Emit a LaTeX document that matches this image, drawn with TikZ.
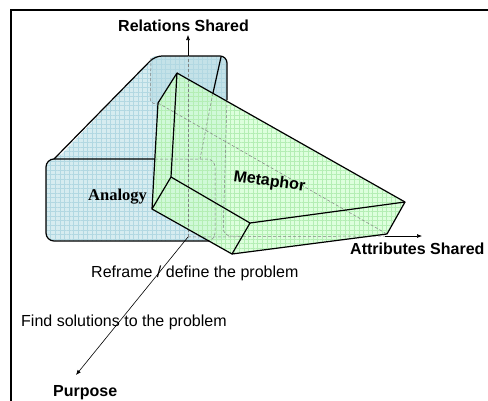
\documentclass[tikz,border=0pt]{standalone}
\usepackage{fontspec}
\setmainfont{Liberation Sans}
\newfontfamily\serifb{Liberation Serif}
\usetikzlibrary{arrows.meta,patterns.meta}
\definecolor{bfill}{RGB}{214,236,240}
\definecolor{bback}{RGB}{196,226,232}
\definecolor{bgrid}{RGB}{178,216,226}
\definecolor{gfill}{RGB}{206,255,206}
\definecolor{ggrid}{RGB}{180,238,180}
\begin{document}
\begin{tikzpicture}[x=1pt,y=-1pt,
  lab/.style={font=\fontsize{16}{18}\selectfont\bfseries, inner sep=0pt, anchor=base west},
  txt/.style={font=\fontsize{16}{18}\selectfont, inner sep=0pt, anchor=base west},
  edge/.style={line width=1.2pt, line join=round},
  hidden/.style={gray, line width=0.5pt, dash pattern=on 3pt off 2pt},
  axis/.style={line width=0.6pt, -{Latex[length=5pt,width=4pt]}},
  gridb/.style={pattern={Hatch[angle=0,distance=4.6pt,line width=0.3pt]}, pattern color=bgrid},
  gridg/.style={pattern={Hatch[angle=0,distance=4.6pt,line width=0.3pt]}, pattern color=ggrid}]
\useasboundingbox (0,0) rectangle (488,400);
% frame
\draw[line width=1.5pt] (11,10) rectangle (530,430);
% coordinates
\coordinate (O) at (188,237);
\coordinate (Oup) at (188,56);
\coordinate (Oright) at (385,236);
\coordinate (A) at (177,73);
\coordinate (B) at (158,103);
\coordinate (C) at (152,209);
\coordinate (D) at (171,177);
\coordinate (E) at (250,223);
\coordinate (F) at (232,254);
\coordinate (G) at (405,202);
\coordinate (H) at (387,234);
% blue analogy shape
\fill[bfill, rounded corners=8] (46,200) -- (46,159) -- (57,159) -- (155,56) -- (227,56) -- (227,241) -- (46,241) -- cycle;
\fill[bback, rounded corners=6] (150,56) rectangle (227,104);
\fill[gridb, rounded corners=8] (46,200) -- (46,159) -- (57,159) -- (155,56) -- (227,56) -- (227,241) -- (46,241) -- cycle;
\draw[edge, rounded corners=8] (155,159) -- (46,159) -- (46,241) -- (209,241);
\draw[edge, rounded corners=7] (54,159) -- (155,56) -- (227,56) -- (227,100);
\draw[edge] (221,57) -- (213,93);
\draw[hidden, rounded corners=6] (151,58) -- (150,104) -- (160,104);
% green metaphor shape
\fill[gfill, fill opacity=0.7] (A) -- (G) -- (H) -- (F) -- (C) -- (B) -- cycle;
\fill[gridg, fill opacity=0.35] (A) -- (G) -- (H) -- (F) -- (C) -- (B) -- cycle;
% hidden lines
\draw[hidden] (B) -- (H);
\draw[hidden] (213,93) -- (200,159);
\draw[hidden, rounded corners=8] (155,159) -- (215,159) -- (215,241) -- (205,241);
\draw[hidden, rounded corners=8] (227,100) -- (223,236) -- (240,236);
\draw[hidden] (O) -- (Oup);
\draw[hidden] (O) -- (Oright);
% green edges
\draw[edge] (A) -- (B) -- (C) -- (D) -- cycle;
\draw[edge] (D) -- (E) -- (F) -- (C);
\draw[edge] (A) -- (G) -- (H) -- (F);
\draw[edge] (E) -- (G);
% axes
\node[lab] (rel) at (118,31) {Relations Shared};
\node[lab] (att) at (350,254) {Attributes Shared};
\node[lab] (pur) at (53,396) {Purpose};
\coordinate (relTip) at (188,35);
\coordinate (attTip) at (422,236);
\coordinate (purTip) at (76,375);
\draw[axis] (Oup) -- (relTip);
\draw[axis] (Oright) -- (attTip);
\draw[axis] (O) -- (purTip);
% labels
\node[font=\serifb\fontsize{16.5}{18}\selectfont\bfseries, inner sep=0pt, anchor=base west] (ana) at (88,200) {Analogy};
\node[lab, rotate=-8] (met) at (233,181) {Metaphor};
\node[txt] (ref) at (91,277) {Reframe / define the problem};
\node[txt] (find) at (21,326) {Find solutions to the problem};
\end{tikzpicture}
\end{document}
